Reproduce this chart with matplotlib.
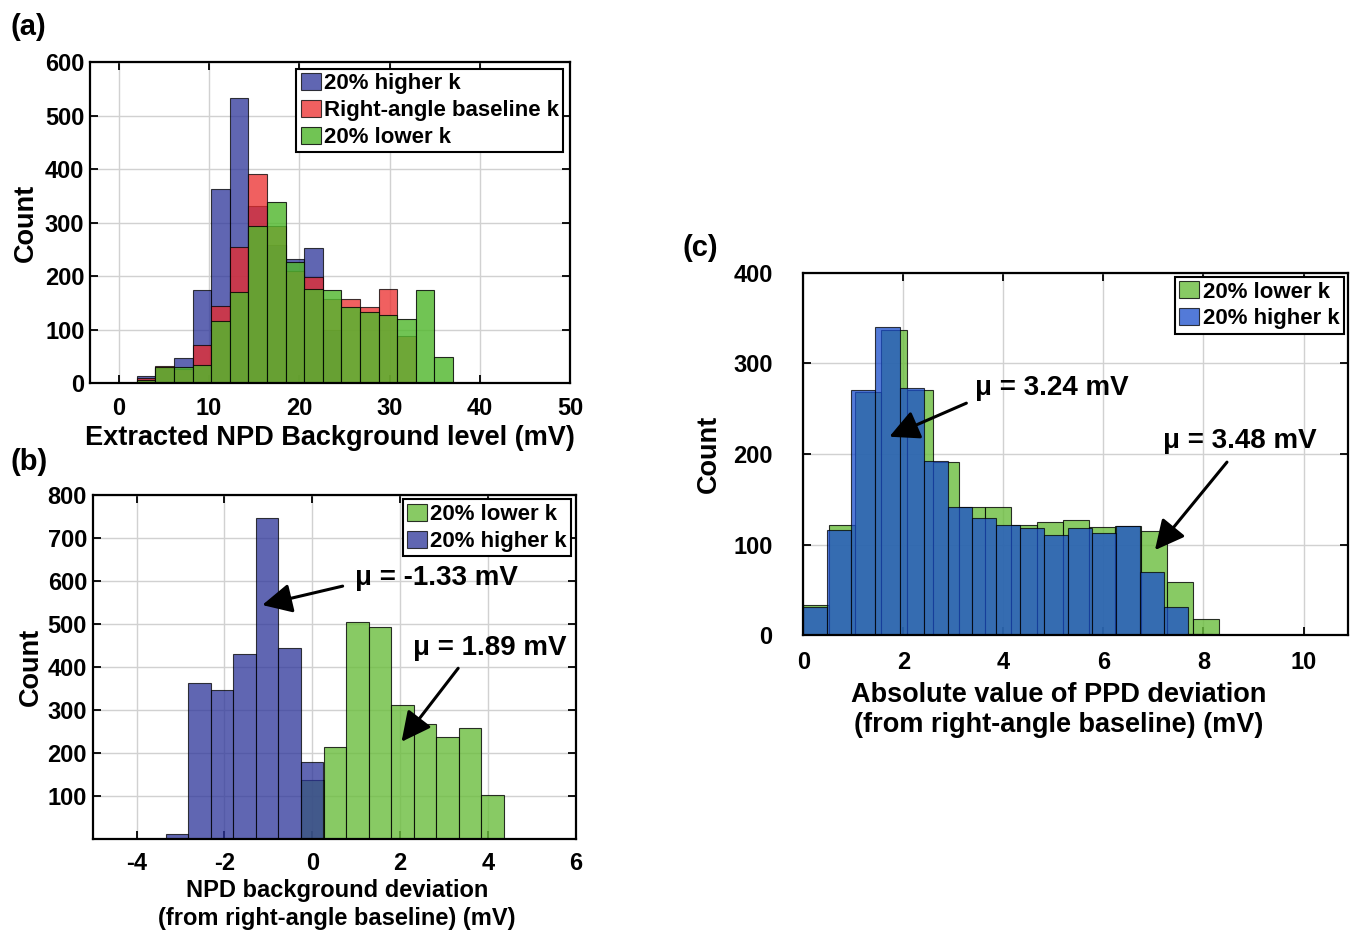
import numpy as np
import matplotlib
matplotlib.use('Agg')
import matplotlib.pyplot as plt

plt.rcParams['font.family'] = ['Liberation Sans', 'DejaVu Sans']
plt.rcParams['font.weight'] = 'bold'
plt.rcParams['axes.unicode_minus'] = False

# ---------------------------------------------------------------------------
# Data (counts per bin)
# ---------------------------------------------------------------------------

# (a) extracted NPD background level, common bins
A_BIN_START, A_BIN_WIDTH = 2.0, 2.06
a_higher = [13, 29, 48, 175, 362, 533, 331, 258, 233, 253, 100]
a_base = [10, 33, 27, 71, 144, 254, 391, 294, 209, 198, 157, 158, 142, 176, 89]
a_lower = [7, 30, 30, 34, 117, 170, 294, 339, 226, 176, 175, 143, 133, 127,
           121, 175, 49, 1]

# (b) NPD background deviation
B_BIN_START, B_BIN_WIDTH = -3.34, 0.512
b_higher = [12, 363, 346, 429, 746, 443, 178]
B_LOWER_START = -0.256
b_lower = [136, 215, 504, 492, 312, 267, 236, 257, 102]
b_mu = [-1.33, 1.89]

# (c) absolute PPD deviation, separate bins per series
C_LOWER_WIDTH, C_HIGHER_WIDTH = 0.52, 0.481
c_lower = [33, 122, 268, 337, 270, 191, 141, 141, 122, 125, 127, 120, 121,
           115, 59, 18]
c_higher = [31, 116, 270, 340, 273, 192, 142, 129, 122, 118, 111, 118, 113,
            121, 70, 31, 2]
c_mu = [3.24, 3.48]

# ---------------------------------------------------------------------------
# Styling
# ---------------------------------------------------------------------------

BLUE = (0.17, 0.20, 0.60)
BLUE_C = (0.10, 0.30, 0.80)
RED = (0.92, 0.17, 0.17)
GREEN_A = (0.32, 0.72, 0.18)
GREEN_BC = (0.42, 0.74, 0.24)
EDGE = (0, 0, 0, 0.45)

TICK_FS = 17
LABEL_FS = 19.5
LABEL_FS_B = 17
LEG_FS = 16
MU_FS = 20


def style_axes(ax, xpad=9.5, ypad=4):
    ax.grid(True, color='0.82', lw=1.0)
    ax.set_axisbelow(True)
    for s in ax.spines.values():
        s.set_linewidth(1.6)
    ax.tick_params(direction='in', length=6, width=1.3, top=True, right=True,
                   labelsize=TICK_FS)
    ax.tick_params(axis='x', pad=xpad)
    ax.tick_params(axis='y', pad=ypad)
    for lab in ax.get_xticklabels() + ax.get_yticklabels():
        lab.set_fontweight('bold')


def draw_hist(ax, start, width, counts, color, alpha, label):
    edges = start + width * np.arange(len(counts))
    ax.bar(edges, counts, width=width, align='edge', color=color, alpha=alpha,
           edgecolor=EDGE, linewidth=0.8, label=label)


def legend(ax, pad=0.3):
    leg = ax.legend(loc='upper right', prop={'size': LEG_FS, 'weight': 'bold'},
                    fancybox=False, edgecolor='black', framealpha=1,
                    handlelength=0.9, handleheight=0.8, handletextpad=0.15,
                    borderpad=0.2, labelspacing=0.25, borderaxespad=pad)
    leg.get_frame().set_linewidth(1.5)
    return leg


def mu_note(ax, text, text_xy, tail, head):
    ax.text(*text_xy, text, fontsize=MU_FS, fontweight='bold',
            ha='left', va='center')
    ax.annotate('', xy=head, xytext=tail,
                arrowprops=dict(arrowstyle='-|>,head_length=0.9,head_width=0.45',
                                color='black', lw=2.2, shrinkA=0, shrinkB=0,
                                mutation_scale=MU_FS))


fig = plt.figure(figsize=(13.51, 9.33), dpi=100)

# ---------------------------------------------------------------------------
# (a)
# ---------------------------------------------------------------------------
axa = fig.add_axes([0.0666, 0.5890, 0.3553, 0.3446])
draw_hist(axa, A_BIN_START, A_BIN_WIDTH, a_higher, BLUE, 0.75, '20% higher k')
draw_hist(axa, A_BIN_START, A_BIN_WIDTH, a_base, RED, 0.75,
          'Right-angle baseline k')
draw_hist(axa, A_BIN_START, A_BIN_WIDTH, a_lower, GREEN_A, 0.82, '20% lower k')
axa.set_xlim(-3.2, 50)
axa.set_ylim(0, 600)
axa.set_xticks(np.arange(0, 51, 10))
axa.set_yticks(np.arange(0, 601, 100))
style_axes(axa)
axa.set_xlabel('Extracted NPD Background level (mV)', fontsize=LABEL_FS,
               fontweight='bold', labelpad=4)
axa.set_ylabel('Count', fontsize=LABEL_FS, fontweight='bold', labelpad=4)
legend(axa)

# ---------------------------------------------------------------------------
# (b)
# ---------------------------------------------------------------------------
axb = fig.add_axes([0.0686, 0.1008, 0.3577, 0.3687])
draw_hist(axb, B_LOWER_START, B_BIN_WIDTH, b_lower, GREEN_BC, 0.8,
          '20% lower k')
draw_hist(axb, B_BIN_START, B_BIN_WIDTH, b_higher, BLUE, 0.75,
          '20% higher k')
axb.set_xlim(-5, 6)
axb.set_ylim(0, 800)
axb.set_xticks(np.arange(-4, 7, 2))
axb.set_yticks(np.arange(100, 801, 100))
style_axes(axb)
axb.set_xlabel('NPD background deviation\n(from right-angle baseline) (mV)',
               fontsize=LABEL_FS_B, fontweight='bold', labelpad=3,
               linespacing=1.25)
axb.xaxis.label.set_x(0.505)
axb.set_ylabel('Count', fontsize=LABEL_FS, fontweight='bold', labelpad=3)
legend(axb, pad=0.2)
mu_note(axb, f'\u03bc = {b_mu[0]:.2f} mV', (0.96, 607), (0.69, 588), (-1.14, 544))
mu_note(axb, f'\u03bc = {b_mu[1]:.2f} mV', (2.28, 444), (3.32, 397), (2.03, 226))

# ---------------------------------------------------------------------------
# (c)
# ---------------------------------------------------------------------------
axc = fig.add_axes([0.5946, 0.3190, 0.4032, 0.3889])
draw_hist(axc, 0.0, C_LOWER_WIDTH, c_lower, GREEN_BC, 0.8, '20% lower k')
draw_hist(axc, 0.0, C_HIGHER_WIDTH, c_higher, BLUE_C, 0.75, '20% higher k')
axc.set_xlim(0, 10.89)
axc.set_ylim(0, 400)
axc.set_xticks(np.arange(0, 11, 2))
axc.set_yticks(np.arange(0, 401, 100))
style_axes(axc, xpad=11, ypad=22)
axc.set_xlabel('Absolute value of PPD deviation\n(from right-angle baseline) (mV)',
               fontsize=LABEL_FS, fontweight='bold', labelpad=6,
               linespacing=1.2)
axc.xaxis.label.set_x(0.468)
axc.set_ylabel('Count', fontsize=LABEL_FS, fontweight='bold', labelpad=8)
legend(axc, pad=0.2)
mu_note(axc, f'\u03bc = {c_mu[0]:.2f} mV', (3.43, 273), (3.26, 256), (1.72, 219))
mu_note(axc, f'\u03bc = {c_mu[1]:.2f} mV', (7.19, 214), (8.47, 191), (7.03, 94))

# panel letters
for txt, x, y in [('(a)', 10, 27), ('(b)', 10, 462), ('(c)', 683, 248)]:
    fig.text(x / 1351, 1 - y / 933, txt, fontsize=21, fontweight='bold',
             ha='left', va='center')

fig.savefig('out.png', dpi=100)
